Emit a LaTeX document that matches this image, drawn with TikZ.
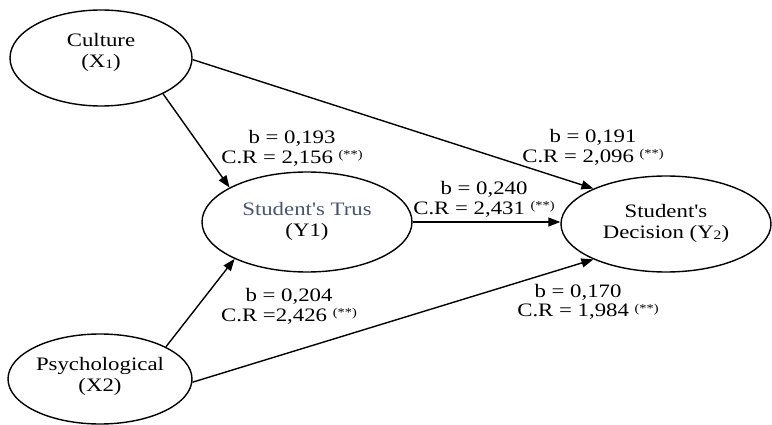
\documentclass[tikz,border=0pt]{standalone}
\usepackage{fontspec}
\setmainfont{Liberation Serif}[FakeStretch=1.2, Ligatures=TeXOff]
\usetikzlibrary{shapes.geometric,arrows.meta}
\definecolor{trusblue}{RGB}{70,85,110}
\newcommand{\sigmark}{\raisebox{4.5pt}{\fontsize{12}{12}\selectfont(**)}}
\newcommand{\smallsub}[1]{\raisebox{-1pt}{\fontsize{13}{13}\selectfont #1}}
\begin{document}
\begin{tikzpicture}[x=1pt,y=-1pt,
  lat/.style={ellipse, draw, line width=1.4pt, inner sep=0pt},
  lattext/.style={align=center, inner sep=0pt, font=\fontsize{19}{21}\selectfont},
  pathar/.style={line width=1.4pt, -{Triangle[length=12pt,width=9pt]}},
  est/.style={align=center, inner sep=0pt, font=\fontsize{19}{20}\selectfont}]
\useasboundingbox (0,0) rectangle (772,425);
% latent variables
\node[lat, minimum width=182pt, minimum height=96pt] (cult) at (101,58) {};
\node[lattext] (cultt) at (101,52) {Culture\\(X\smallsub{1})};
\node[lat, minimum width=210pt, minimum height=100pt] (trus) at (307,222) {};
\node[lattext] (trust) at (307,221) {\textcolor{trusblue}{Student's Trus}\\(Y1)};
\node[lat, minimum width=210pt, minimum height=96pt] (dec) at (666,224) {};
\node[lattext] (dect) at (666,223) {Student's\\Decision (Y\smallsub{2})};
\node[lat, minimum width=184pt, minimum height=90pt] (psy) at (100,379) {};
\node[lattext] (psyt) at (100,376) {Psychological\\(X2)};
% paths
\draw[pathar] (cult.-30) -- (trus.156);
\draw[pathar] (cult.-1) -- (dec.154.7);
\draw[pathar] (trus.east) -- (trus.east -| dec.west);
\draw[pathar] (psy.26) -- (trus.-153);
\draw[pathar] (psy.-2) -- (dec.-154.7);
% estimates
\node[est] (l1) at (292,148) {b = 0,193\\C.R = 2,156 \sigmark};
\node[est] (l2) at (593,147) {b = 0,191\\C.R = 2,096 \sigmark};
\node[est] (l3) at (484,199) {b = 0,240\\C.R = 2,431 \sigmark};
\node[est] (l4) at (289,306) {b = 0,204\\C.R =2,426 \sigmark};
\node[est] (l5a) at (578,292) {b = 0,170};
\node[est] (l5b) at (588,312) {C.R = 1,984 \sigmark};
\end{tikzpicture}
\end{document}
